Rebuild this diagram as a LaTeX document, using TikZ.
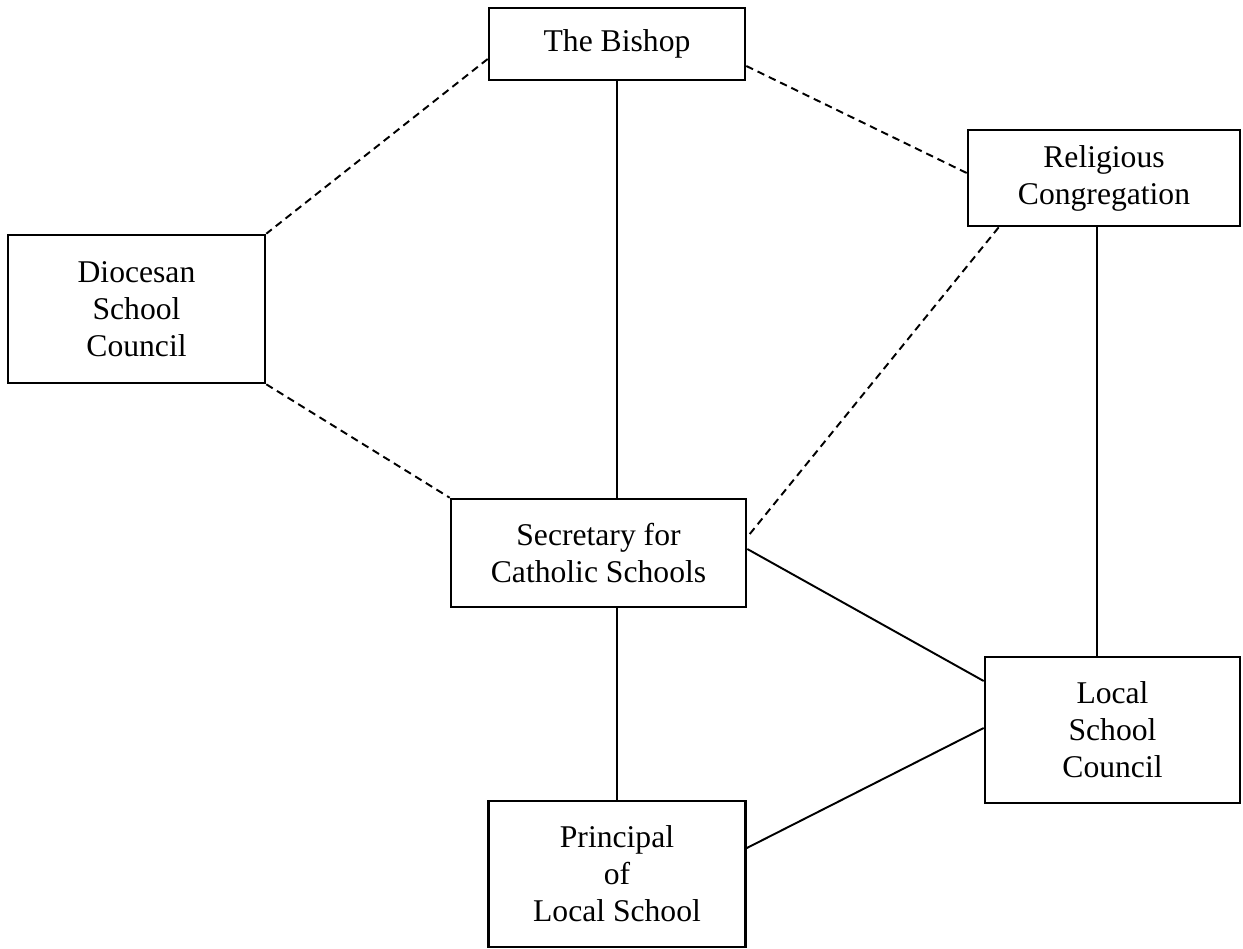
\documentclass[tikz,border=0pt]{standalone}
\usepackage{fontspec}
\setmainfont{Liberation Serif}
\usetikzlibrary{calc}

\begin{document}
\begin{tikzpicture}[
  box/.style={draw, line width=1.5pt, rectangle, align=center, inner sep=0pt,
    font=\fontsize{18}{21}\selectfont},
  link/.style={line width=1.1pt},
  dashlink/.style={line width=1.1pt, dash pattern=on 0.15cm off 0.1cm}]
  \useasboundingbox (0,0) rectangle (24.86,-18.96);
  \node[box, minimum width=5.12cm, minimum height=1.44cm] (bishop) at (12.34,-0.88) {The Bishop};
  \node[box, minimum width=5.44cm, minimum height=1.92cm] (relig) at (22.08,-3.56) {Religious\\Congregation};
  \node[box, minimum width=5.14cm, minimum height=2.96cm] (dsc) at (2.73,-6.18) {Diocesan\\School\\Council};
  \node[box, minimum width=5.9cm, minimum height=2.16cm] (sec) at (11.97,-11.06) {Secretary for\\Catholic Schools};
  \node[box, minimum width=5.1cm, minimum height=2.92cm] (lsc) at (22.25,-14.6) {Local\\School\\Council};
  \node[box, minimum width=5.14cm, minimum height=2.92cm] (prin) at (12.34,-17.48) {Principal\\of\\Local School};
  % solid lines
  \draw[link] (bishop.south) -- (bishop.south |- sec.north);
  \draw[link] (sec.south -| prin.north) -- (prin.north);
  \draw[link] ([xshift=-0.14cm]relig.south) -- ([xshift=-0.14cm]relig.south |- lsc.north);
  \draw[link] ([yshift=0.08cm]sec.east) -- ([yshift=0.98cm]lsc.west);
  \draw[link] ([yshift=0.52cm]prin.east) -- ([yshift=0.04cm]lsc.west);
  % dashed lines
  \draw[dashlink] ([yshift=-0.3cm]bishop.west) -- (dsc.north east);
  \draw[dashlink] (dsc.south east) -- (sec.north west);
  \draw[dashlink] ([yshift=-0.44cm]bishop.east) -- ([yshift=0.1cm]relig.west);
  \draw[dashlink] ([xshift=0.64cm]relig.south west) -- ([yshift=0.32cm]sec.east);
\end{tikzpicture}
\end{document}
